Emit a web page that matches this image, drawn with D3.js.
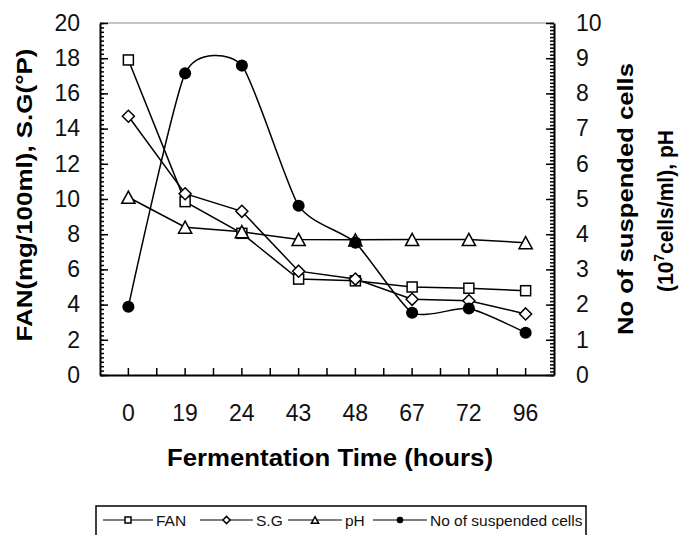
<!DOCTYPE html>
<html>
<head>
<meta charset="utf-8">
<script src="https://cdn.jsdelivr.net/npm/d3@7"></script>
<style>
  body { margin: 0; background: #fff; }
  svg { font-family: "Liberation Sans", Arial, sans-serif; }
</style>
</head>
<body>
<div id="main"></div>
<script>
// data
const hours = ["0", "19", "24", "43", "48", "67", "72", "96"];
const fan   = [17.9, 9.85, 8.05, 5.45, 5.35, 5.0, 4.93, 4.79];
const sg    = [14.7, 10.3, 9.3, 5.9, 5.45, 4.3, 4.22, 3.47];
const ph    = [5.05, 4.2, 4.07, 3.85, 3.84, 3.85, 3.85, 3.76];
const cells = [1.94, 8.57, 8.79, 4.81, 3.76, 1.77, 1.89, 1.2];
const leftTicks  = d3.range(0, 21, 2);
const rightTicks = d3.range(0, 11, 1);

const W = 688, H = 535;
const pLeft = 100, pRight = 554, pTop = 23, pBottom = 375;

const svg = d3.select("#main").append("svg")
    .attr("width", W)
    .attr("height", H);

const x = d3.scaleBand().domain(hours).range([pLeft, pRight]);
const yL = d3.scaleLinear().domain([0, 20]).range([pBottom, pTop]);
const yR = d3.scaleLinear().domain([0, 10]).range([pBottom, pTop]);
const cx = d => x(d) + x.bandwidth() / 2;

// top border
svg.append("line")
    .attr("x1", pLeft).attr("x2", pRight)
    .attr("y1", pTop).attr("y2", pTop)
    .attr("stroke", "#8a8a8a").attr("stroke-width", 1.2);

/* minor ticks */
svg.append("g")
    .attr("transform", "translate(" + pLeft + ",0)")
    .call(d3.axisLeft(yL).tickValues(d3.range(0, 20.01, 0.25)).tickSize(-4).tickFormat(""))
    .call(g => g.select(".domain").remove());
svg.append("g")
    .attr("transform", "translate(" + pRight + ",0)")
    .call(d3.axisRight(yR).tickValues(d3.range(0, 10.01, 0.1)).tickSize(-4).tickFormat(""))
    .call(g => g.select(".domain").remove());

/* axes */
const ax = svg.append("g")
    .attr("transform", "translate(0," + pBottom + ")")
    .call(d3.axisBottom(x).tickSizeInner(-7).tickSizeOuter(0).tickPadding(30));
ax.selectAll(".boundary")
    .data(hours.slice(1))
    .enter().append("line")
    .attr("class", "boundary")
    .attr("x1", d => x(d)).attr("x2", d => x(d))
    .attr("y1", 0).attr("y2", -7)
    .attr("stroke", "black").attr("stroke-width", 1.5);

svg.append("g")
    .attr("transform", "translate(" + pLeft + ",0)")
    .call(d3.axisLeft(yL).tickValues(leftTicks).tickSizeInner(-8).tickSizeOuter(0).tickPadding(20));

svg.append("g")
    .attr("transform", "translate(" + pRight + ",0)")
    .call(d3.axisRight(yR).tickValues(rightTicks).tickSizeInner(-8).tickSizeOuter(0).tickPadding(22));

svg.selectAll(".domain").attr("stroke-width", 2);
svg.selectAll(".tick line").attr("stroke-width", 1.5);
svg.selectAll(".tick text")
    .attr("font-size", 23)
    .attr("font-family", "Liberation Sans, Arial, sans-serif")
    .attr("fill", "#111");

/* series */
const lineL = d3.line().x((d, i) => cx(hours[i])).y(d => yL(d));
const lineR = d3.line().x((d, i) => cx(hours[i])).y(d => yR(d));
const smooth = d3.line().x((d, i) => cx(hours[i])).y(d => yR(d))
    .curve(d3.curveCardinal.tension(0.4));

function path(d, gen) {
    svg.append("path")
        .attr("d", gen(d))
        .attr("fill", "none")
        .attr("stroke", "black")
        .attr("stroke-width", 1.5);
}
path(fan, lineL);
path(sg, lineL);
path(ph, lineR);
path(cells, smooth);

function marker(g, type, px, py, s) {
    if (type === "square") {
        g.append("rect").attr("x", px - s / 2).attr("y", py - s / 2)
            .attr("width", s).attr("height", s)
            .attr("fill", "white").attr("stroke", "black").attr("stroke-width", 1.5);
    } else if (type === "diamond") {
        const r = s * 0.6;
        g.append("path")
            .attr("d", `M${px},${py - r}L${px + r},${py}L${px},${py + r}L${px - r},${py}Z`)
            .attr("fill", "white").attr("stroke", "black").attr("stroke-width", 1.5);
    } else if (type === "triangle") {
        const hw = s * 0.6, hh = s * 0.55;
        g.append("path")
            .attr("d", `M${px},${py - hh}L${px + hw},${py + hh}L${px - hw},${py + hh}Z`)
            .attr("fill", "white").attr("stroke", "black").attr("stroke-width", 1.5);
    } else {
        g.append("circle").attr("cx", px).attr("cy", py).attr("r", s * 0.55)
            .attr("fill", "black");
    }
}

const mk = svg.append("g");
fan.forEach((v, i) => marker(mk, "square", cx(hours[i]), yL(v), 10));
sg.forEach((v, i) => marker(mk, "diamond", cx(hours[i]), yL(v), 10));
ph.forEach((v, i) => marker(mk, "triangle", cx(hours[i]), yR(v), 11));
cells.forEach((v, i) => marker(mk, "circle", cx(hours[i]), yR(v), 11));

/* axis titles */
svg.append("text")
    .attr("transform", "translate(32,195) rotate(-90)")
    .attr("text-anchor", "middle")
    .attr("font-size", 22).attr("font-weight", "bold")
    .attr("textLength", 293).attr("lengthAdjust", "spacingAndGlyphs")
    .text("FAN(mg/100ml), S.G(°P)");

svg.append("text")
    .attr("transform", "translate(633,199) rotate(-90)")
    .attr("text-anchor", "middle")
    .attr("font-size", 22).attr("font-weight", "bold")
    .attr("textLength", 272).attr("lengthAdjust", "spacingAndGlyphs")
    .text("No of suspended cells");

const t2 = svg.append("text")
    .attr("transform", "translate(673,211) rotate(-90)")
    .attr("text-anchor", "middle")
    .attr("font-size", 22).attr("font-weight", "bold")
    .attr("textLength", 162).attr("lengthAdjust", "spacingAndGlyphs");
t2.append("tspan").text("(10");
t2.append("tspan").attr("font-size", 14).attr("dy", -9).text("7");
t2.append("tspan").attr("dy", 9).text("cells/ml), pH");

svg.append("text")
    .attr("x", 330).attr("y", 466)
    .attr("text-anchor", "middle")
    .attr("font-size", 23).attr("font-weight", "bold")
    .attr("textLength", 326).attr("lengthAdjust", "spacingAndGlyphs")
    .text("Fermentation Time (hours)");

/* legend */
const legend = svg.append("g");
legend.append("rect")
    .attr("x", 96).attr("y", 506).attr("width", 490).attr("height", 40)
    .attr("fill", "white").attr("stroke", "black").attr("stroke-width", 1.5);

const legendItems = [
    { name: "FAN", type: "square", x0: 103, x1: 153 },
    { name: "S.G", type: "diamond", x0: 200, x1: 253 },
    { name: "pH", type: "triangle", x0: 288, x1: 342 },
    { name: "No of suspended cells", type: "circle", x0: 373, x1: 427 }
];
legendItems.forEach(d => {
    legend.append("line")
        .attr("x1", d.x0).attr("x2", d.x1)
        .attr("y1", 520).attr("y2", 520)
        .attr("stroke", "black").attr("stroke-width", 1.2);
    marker(legend, d.type, (d.x0 + d.x1) / 2, 520, 6);
    legend.append("text")
        .attr("x", d.x1 + 3).attr("y", 525.5)
        .attr("font-size", 15.5)
        .attr("fill", "#111")
        .text(d.name);
});
</script>
</body>
</html>
